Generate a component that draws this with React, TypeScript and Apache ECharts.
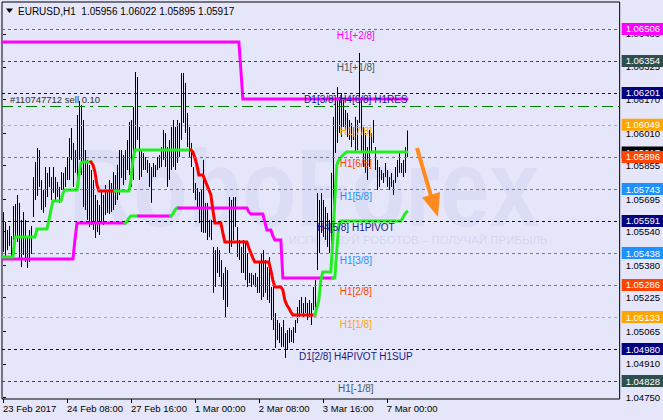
import React, { useEffect, useRef } from "react";
import * as echarts from "echarts";

const FONT = "Liberation Sans";
const BG = "#E6E6FA";

// H1 bars: high / low per bar (bar index 0 = 23 Feb 2017 00:00)
const barHigh = [
  1.05634, 1.05586, 1.05548, 1.05567, 1.05519, 1.05662, 1.05672, 1.05715, 1.05677, 1.05596,
  1.05634, 1.05596, 1.05519, 1.05548, 1.05567, 1.058, 1.05872, 1.05939, 1.05929, 1.05786,
  1.05739, 1.05848, 1.0582, 1.05848, 1.058, 1.05848, 1.058, 1.05777, 1.05753, 1.05824,
  1.0582, 1.05848, 1.05896, 1.05986, 1.06034, 1.05963, 1.05929, 1.06096, 1.06163, 1.06144,
  1.06072, 1.05929, 1.05882, 1.05858, 1.05834, 1.05786, 1.05715, 1.05691, 1.05667, 1.05739,
  1.05715, 1.05762, 1.05739, 1.05786, 1.05772, 1.05824, 1.0581, 1.05858, 1.05929, 1.05929,
  1.05905, 1.05929, 1.05977, 1.06063, 1.06072, 1.06134, 1.06301, 1.06277, 1.06039, 1.05929,
  1.05915, 1.05896, 1.05882, 1.05867, 1.05848, 1.05867, 1.05858, 1.05896, 1.05905, 1.05943,
  1.06025, 1.0601, 1.05943, 1.05977, 1.06039, 1.06072, 1.06039, 1.06072, 1.06058, 1.06296,
  1.06296, 1.06249, 1.06106, 1.06039, 1.05963, 1.05848, 1.05772, 1.05748, 1.05729, 1.05739,
  1.05882, 1.05677, 1.05677, 1.05596, 1.05596, 1.05467, 1.05452, 1.05467, 1.05452, 1.05405,
  1.05343, 1.05371, 1.05357, 1.05705, 1.05691, 1.05705, 1.05705, 1.05562, 1.055, 1.05467,
  1.055, 1.05486, 1.05438, 1.05343, 1.05343, 1.05333, 1.05343, 1.05324, 1.05391, 1.05438,
  1.05452, 1.05405, 1.05371, 1.05419, 1.05276, 1.05295, 1.05152, 1.05119, 1.05104, 1.05085,
  1.05119, 1.05057, 1.05071, 1.05081, 1.05071, 1.05085, 1.05119, 1.05181, 1.05214, 1.05228,
  1.052, 1.05228, 1.052, 1.05214, 1.052, 1.05276, 1.05309, 1.05724, 1.05691, 1.05724,
  1.05691, 1.05657, 1.05629, 1.05596, 1.0582, 1.06087, 1.06168, 1.06229, 1.06182, 1.06201,
  1.06168, 1.0612, 1.06106, 1.06072, 1.06058, 1.06039, 1.06087, 1.06072, 1.06392, 1.06182,
  1.06039, 1.0601, 1.05943, 1.06025, 1.0601, 1.06072, 1.05943, 1.05882, 1.05848, 1.05834,
  1.0582, 1.05867, 1.05834, 1.058, 1.0582, 1.05786, 1.05848, 1.05882, 1.05915, 1.05867,
  1.05882, 1.05943, 1.06022,
];
const barLow = [
  1.05443, 1.05414, 1.05452, 1.05472, 1.05424, 1.055, 1.0551, 1.05491, 1.05414, 1.05371,
  1.05429, 1.05395, 1.05367, 1.05395, 1.05433, 1.0561, 1.05691, 1.0571, 1.05753, 1.05643,
  1.05629, 1.05657, 1.05705, 1.05753, 1.05691, 1.05724, 1.05691, 1.05705, 1.05677, 1.05739,
  1.05724, 1.05753, 1.05786, 1.05786, 1.05882, 1.05753, 1.0582, 1.05786, 1.05882, 1.0581,
  1.05657, 1.05643, 1.05596, 1.05562, 1.05572, 1.05548, 1.0551, 1.05538, 1.05524, 1.05586,
  1.05572, 1.05619, 1.05629, 1.05624, 1.05634, 1.05643, 1.05667, 1.05691, 1.05715, 1.05796,
  1.05762, 1.05786, 1.05834, 1.0581, 1.05753, 1.05786, 1.05929, 1.05977, 1.05786, 1.058,
  1.05834, 1.05834, 1.0582, 1.05753, 1.05677, 1.058, 1.058, 1.05834, 1.05843, 1.05848,
  1.05882, 1.05848, 1.05753, 1.05786, 1.05834, 1.05848, 1.05834, 1.05867, 1.05896, 1.05977,
  1.06058, 1.0601, 1.05943, 1.05896, 1.05848, 1.05724, 1.05691, 1.05657, 1.05581, 1.05538,
  1.05534, 1.05534, 1.055, 1.05514, 1.055, 1.05248, 1.05276, 1.05343, 1.05324, 1.05276,
  1.05214, 1.05133, 1.05181, 1.05438, 1.05467, 1.055, 1.05562, 1.05419, 1.05405, 1.05343,
  1.05343, 1.05309, 1.05276, 1.05295, 1.05276, 1.05286, 1.05276, 1.05248, 1.05248, 1.05214,
  1.05228, 1.05248, 1.05214, 1.052, 1.05119, 1.05071, 1.04985, 1.05023, 1.05009, 1.0499,
  1.0499, 1.04938, 1.04976, 1.05009, 1.05014, 1.05009, 1.05057, 1.05104, 1.05133, 1.05152,
  1.05133, 1.05152, 1.05119, 1.05133, 1.05095, 1.05166, 1.05166, 1.05357, 1.05438, 1.05534,
  1.05514, 1.055, 1.05467, 1.05438, 1.05452, 1.05596, 1.05915, 1.05963, 1.0601, 1.05991,
  1.06039, 1.06025, 1.05991, 1.05977, 1.05943, 1.05977, 1.05915, 1.05929, 1.06058, 1.05915,
  1.05848, 1.0582, 1.05786, 1.05848, 1.05915, 1.05963, 1.05834, 1.05739, 1.05753, 1.05786,
  1.05772, 1.058, 1.05753, 1.05739, 1.05753, 1.05715, 1.05772, 1.058, 1.0582, 1.0582,
  1.058, 1.0582, 1.05895,
];
const lastOHLC = [1.05956, 1.06022, 1.05895, 1.05917];

// fast trailing line (green = up, red = down)
const fastUpA = [[0, 1.05419], [5, 1.05419], [6, 1.05514], [16, 1.05514], [17, 1.05553], [22, 1.05553], [23, 1.05596], [24, 1.05643], [25, 1.05686], [29, 1.05686], [30, 1.05724], [31, 1.05739], [37, 1.05739], [38, 1.0581], [39, 1.05867], [40, 1.05872], [44, 1.05872]];
const fastDownA = [[44, 1.05872], [45, 1.05858], [46, 1.05824], [47, 1.05763], [48, 1.05734], [56, 1.05734]];
const fastUpB = [[56, 1.05734], [63, 1.05734], [64, 1.05786], [65, 1.05881], [66, 1.05929], [94, 1.05929]];
const fastDownB = [[94, 1.05929], [95, 1.0592], [96, 1.05891], [97, 1.05858], [98, 1.0581], [100, 1.0581], [101, 1.05786], [102, 1.05763], [103, 1.05739], [104, 1.05715], [105, 1.05643], [106, 1.05581], [109, 1.05581], [110, 1.05533], [111, 1.05491], [122, 1.05491], [123, 1.05462], [124, 1.05438], [125, 1.05414], [126, 1.05395], [133, 1.05395], [134, 1.05356], [135, 1.05309], [136, 1.05276], [139, 1.05276], [140, 1.05262], [141, 1.05214], [142, 1.0519], [143, 1.05176], [144, 1.05157], [145, 1.05143], [156, 1.05143]];
const fastUpC = [[156, 1.05143], [157, 1.05176], [158, 1.05214], [159, 1.05309], [160, 1.05348], [164, 1.05348], [165, 1.055], [166, 1.05691], [167, 1.05858], [168, 1.05881], [169, 1.05894], [170, 1.05904], [171, 1.05913], [172, 1.0592], [202, 1.0592]];

// slow trailing line (magenta = down, green = up)
const slowDownA = [[0, 1.0541], [35, 1.0541], [36, 1.055], [37, 1.05581], [61, 1.05581]];
const slowUpA = [[61, 1.05581], [62, 1.05586], [63, 1.05605], [64, 1.05615], [68, 1.05615]];
const slowDownB = [[68, 1.05615], [84, 1.05615]];
const slowUpB = [[84, 1.05615], [85, 1.05624], [86, 1.05643], [87, 1.05653], [88, 1.05653]];
const slowDownC = [[88, 1.05653], [122, 1.05653], [123, 1.05634], [124, 1.05624], [130, 1.05624], [131, 1.05586], [132, 1.05548], [134, 1.05548], [135, 1.05519], [136, 1.055], [139, 1.055], [140, 1.05319], [165, 1.05319]];
const slowUpC = [[165, 1.05319], [166, 1.05319], [167, 1.05452], [168, 1.05576], [169, 1.05591], [199, 1.05591], [200, 1.05605], [201, 1.05624], [202, 1.05634]];
const topLine = [[0, 1.06444], [118, 1.06444], [119, 1.06311], [120, 1.06172], [202, 1.06172]];

// axes
const xMin = -0.5;
const xMax = 308.5;
const xTickIndex = [0, 32, 64, 96, 128, 160, 192];
const xTickLabels = ["23 Feb 2017", "24 Feb 08:00", "27 Feb 16:00", "1 Mar 00:00", "2 Mar 08:00", "3 Mar 16:00", "7 Mar 00:00"];
const yTickValues = [1.0475, 1.0491, 1.05065, 1.05225, 1.0538, 1.0554, 1.05695, 1.05855, 1.0601, 1.0617, 1.06325, 1.06483];

// Murrey-style levels
const levelPrices = [1.06506, 1.06354, 1.06201, 1.06049, 1.05896, 1.05743, 1.05591, 1.05438, 1.05286, 1.05133, 1.0498, 1.04828];
const levelNames = ["H1[+2/8]", "H1[+1/8]", "D1[3/8] H4[6/8] H1RES", "H1[7/8]", "H1[6/8]", "H1[5/8]", "H4[5/8] H1PIVOT", "H1[3/8]", "H1[2/8]", "H1[1/8]", "D1[2/8] H4PIVOT H1SUP", "H1[-1/8]"];
const levelColors = ["#FF00FF", "#2F4F4F", "#000080", "#FFA500", "#FF4500", "#1E90FF", "#000080", "#1E90FF", "#FF4500", "#FFA500", "#000080", "#2F4F4F"];
const levelTextColors = ["#FF00FF", "#4A5A5A", "#1A1A8C", "#FFA500", "#FF4500", "#1E90FF", "#1A1A8C", "#1E90FF", "#FF4500", "#FFA500", "#1A1A8C", "#4A5A5A"];

const orderPrice = 1.06139;
const orderText = "#110747712 sell 0.10";
const bidPrice = 1.05917;

function lineSeries(pts: number[][], color: string) {
  return {
    type: "line",
    data: pts,
    showSymbol: false,
    symbol: "none",
    silent: true,
    z: 4,
    lineStyle: { color, width: 3, cap: "square", join: "miter" },
    animation: false,
  };
}

function buildOption() {
  const boxLabel = (p: number, bg: string) => ({
    show: true,
    position: "end",
    formatter: p.toFixed(5),
    backgroundColor: bg,
    color: "#FFFFFF",
    padding: [1, 4, 1, 4],
    fontSize: 9.5,
    lineHeight: 10,
    fontFamily: FONT,
    distance: 2,
  });

  const fullLine = (p: number, lineStyle: any, label: any) => [
    { coord: [xMin, p], lineStyle, label },
    { coord: [xMax, p], lineStyle, label },
  ];

  const levelLineData: any[] = levelPrices.map((p, k) =>
    fullLine(p, { color: levelColors[k], type: [3, 3], width: 1 }, boxLabel(p, levelColors[k]))
  );
  const levelTextData: any[] = levelPrices.map((p, k) => {
    const label = {
      show: true,
      position: "insideMiddleBottom",
      formatter: levelNames[k],
      color: levelTextColors[k],
      fontSize: 10,
      fontFamily: FONT,
      distance: 2,
    };
    const ls = { width: 0, color: "transparent" };
    return [
      { coord: [168, p], lineStyle: ls, label },
      { coord: [185, p], lineStyle: ls, label },
    ];
  });
  const orderData: any[] = [
    fullLine(
      orderPrice,
      { color: "#008000", type: [11, 5, 3, 5], width: 1 },
      {
        show: true,
        position: "insideStartTop",
        formatter: orderText,
        color: "#303030",
        fontSize: 9.5,
        fontFamily: FONT,
        distance: [8, 1],
      }
    ),
  ];
  const bidData: any[] = [
    fullLine(bidPrice, { width: 0, color: "transparent" }, boxLabel(bidPrice, "#000000")),
  ];

  return {
    animation: false,
    backgroundColor: BG,
    textStyle: { fontFamily: FONT },
    grid: { left: 2, top: 2, width: 618, height: 397, show: true, borderColor: "#000", borderWidth: 1, backgroundColor: "transparent" },
    xAxis: {
      type: "value",
      min: xMin,
      max: xMax,
      axisLine: { show: false },
      splitLine: { show: false },
      axisTick: { show: true, customValues: xTickIndex, length: 4, lineStyle: { color: "#000" } },
      axisLabel: {
        customValues: xTickIndex,
        formatter: (v: number) => xTickLabels[xTickIndex.indexOf(Math.round(v))] || "",
        align: "left",
        color: "#000",
        fontSize: 9.5,
        fontFamily: FONT,
        margin: 4,
      },
    },
    yAxis: {
      type: "value",
      position: "right",
      min: 1.047422,
      max: 1.066347,
      axisLine: { show: false },
      splitLine: { show: false },
      axisTick: { show: true, customValues: yTickValues, length: 3, lineStyle: { color: "#000" } },
      axisLabel: {
        customValues: yTickValues,
        formatter: (v: number) => v.toFixed(5),
        color: "#000",
        fontSize: 9.5,
        fontFamily: FONT,
        margin: 6,
      },
    },
    graphic: [
      {
        type: "text",
        x: 304,
        y: 188,
        z: -1,
        silent: true,
        scaleX: 0.81,
        style: {
          text: "RoboForex",
          fontSize: 110,
          fontWeight: "bold",
          fontFamily: FONT,
          fill: "rgba(170,185,225,0.2)",
          align: "center",
          verticalAlign: "middle",
        },
      },
      {
        type: "text",
        x: 418,
        y: 240,
        z: -1,
        silent: true,
        style: {
          text: "ИСПОЛЬЗУЙ РОБОТОВ – ПОЛУЧАЙ ПРИБЫЛЬ",
          fontSize: 11.5,
          fontFamily: FONT,
          fill: "rgba(170,185,225,0.35)",
          align: "center",
          verticalAlign: "middle",
        },
      },
      {
        type: "polygon",
        shape: { points: [[6, 8.5], [13, 8.5], [9.5, 13]] },
        style: { fill: "#000" },
        silent: true,
      },
      {
        type: "text",
        x: 18,
        y: 11,
        silent: true,
        style: {
          text: "EURUSD,H1  " + lastOHLC.map((v) => v.toFixed(5)).join(" "),
          fontSize: 10,
          fontFamily: FONT,
          fill: "#000",
          verticalAlign: "middle",
        },
      },
      {
        type: "line",
        shape: { x1: 417, y1: 148, x2: 431, y2: 196 },
        style: { stroke: "#FF8A1E", lineWidth: 4 },
        silent: true,
        z: 10,
      },
      {
        type: "polygon",
        shape: { points: [[422, 197.5], [440, 192], [438, 217]] },
        style: { fill: "#FF8A1E" },
        silent: true,
        z: 10,
      },
    ],
    series: [
      {
        type: "line",
        data: [],
        z: 1,
        silent: true,
        markLine: { silent: true, symbol: ["none", "none"], animation: false, data: bidData },
      },
      {
        type: "line",
        data: [],
        z: 2,
        silent: true,
        markLine: {
          silent: true,
          symbol: ["none", "none"],
          animation: false,
          data: [...levelLineData, ...orderData, ...levelTextData],
        },
      },
      {
        type: "custom",
        z: 3,
        silent: true,
        data: barHigh.map((h, i) => [i, h, barLow[i]]),
        encode: { x: 0, y: [1, 2] },
        renderItem: (params: any, api: any) => {
          const i = api.value(0);
          const hi = api.coord([i, api.value(1)]);
          const lo = api.coord([i, api.value(2)]);
          const x = Math.round(hi[0]) + 0.5;
          return {
            type: "line",
            shape: { x1: x, y1: hi[1], x2: x, y2: lo[1] },
            style: { stroke: "#000", lineWidth: 1 },
          };
        },
      },
      lineSeries(topLine, "#FF00FF"),
      lineSeries(slowDownA, "#FF00FF"),
      lineSeries(slowUpA, "#22EE22"),
      lineSeries(slowDownB, "#FF00FF"),
      lineSeries(slowUpB, "#22EE22"),
      lineSeries(slowDownC, "#FF00FF"),
      lineSeries(slowUpC, "#22EE22"),
      lineSeries(fastUpA, "#22EE22"),
      lineSeries(fastDownA, "#FF0000"),
      lineSeries(fastUpB, "#22EE22"),
      lineSeries(fastDownB, "#FF0000"),
      lineSeries(fastUpC, "#22EE22"),
    ],
  };
}

export default function App() {
  const ref = useRef<HTMLDivElement>(null);
  useEffect(() => {
    if (!ref.current) return;
    const chart = echarts.init(ref.current, null, { renderer: "svg" });
    chart.setOption(buildOption() as any);
    return () => chart.dispose();
  }, []);
  return (
    <div
      ref={ref}
      style={{ position: "fixed", left: 0, top: 0, width: 663, height: 420, background: BG }}
    />
  );
}
